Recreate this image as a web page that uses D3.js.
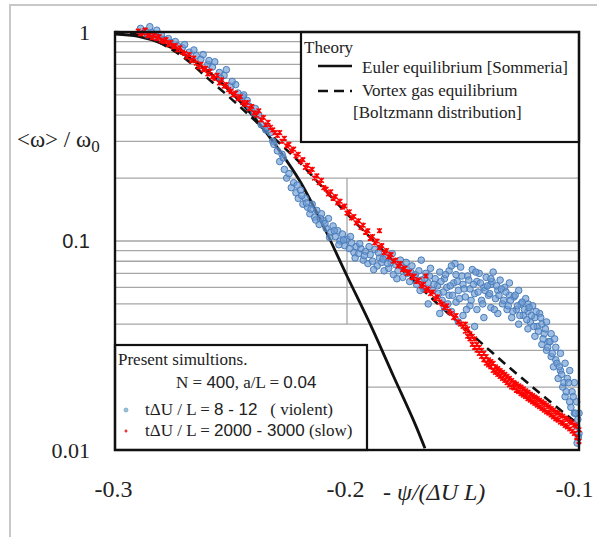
<!DOCTYPE html>
<html><head><meta charset="utf-8">
<script src="https://cdn.jsdelivr.net/npm/d3@7"></script>
<style>body{margin:0;background:#fff}svg{display:block}</style>
</head><body><svg id="c" width="597" height="537"></svg>
<script>
// ---------------- data ----------------
const xTicks = [-0.3, -0.2, -0.1];
const xTickLabels = ["-0.3", "-0.2", "-0.1"];
const yTicks = [1, 0.1, 0.01];
const yTickLabels = ["1", "0.1", "0.01"];
const yGrid = [0.02,0.03,0.04,0.05,0.06,0.07,0.08,0.09,0.1,0.2,0.3,0.4,0.5,0.6,0.7,0.8,0.9];
const xGridPartial = [-0.2];               // short vertical grid segment
const xGridPartialRange = [0.04, 0.2];

// Euler equilibrium [Sommeria] (solid)
const eulerX = [-0.300,-0.290,-0.280,-0.270,-0.260,-0.250,-0.240,-0.230,-0.220,-0.210,-0.200,-0.190,-0.180,-0.170,-0.1664];
const eulerY = [0.978,0.953,0.883,0.778,0.650,0.516,0.390,0.280,0.191,0.117,0.068,0.040,0.0226,0.0128,0.0102];

// Vortex gas equilibrium [Boltzmann] (dashed)
const gasX = [-0.300,-0.290,-0.280,-0.270,-0.260,-0.250,-0.240,-0.230,-0.220,-0.210,-0.200,-0.190,-0.180,-0.170,-0.160,-0.150,-0.140,-0.130,-0.120,-0.110,-0.100];
const gasY = [1.0,0.97,0.88,0.75,0.60,0.48,0.38,0.30,0.235,0.178,0.135,0.104,0.080,0.0625,0.049,0.039,0.031,0.0248,0.0200,0.0162,0.0132];

// tΔU/L = 8-12 (violent)
const violent = [
[-0.289,1.04],[-0.287,1.01],[-0.286,0.97],[-0.285,1.06],[-0.284,0.99],[-0.283,0.95],[-0.282,1.02],[-0.281,0.94],[-0.280,0.97],[-0.279,0.92],[-0.277,0.93],[-0.276,0.89],[-0.274,0.90],[-0.273,0.86],[-0.271,0.84],[-0.270,0.87],[-0.268,0.80],[-0.266,0.82],[-0.265,0.77],[-0.263,0.74],[-0.262,0.78],[-0.260,0.70],[-0.258,0.68],[-0.257,0.72],[-0.255,0.64],[-0.253,0.62],[-0.252,0.66],[-0.250,0.55],[-0.248,0.56],[-0.247,0.51],[-0.245,0.49],[-0.243,0.47],[-0.242,0.44],[-0.240,0.41],[-0.238,0.40],[-0.237,0.36],[-0.235,0.34],[-0.233,0.33],[-0.232,0.30],[-0.230,0.27],[-0.229,0.24],[-0.228,0.26],[-0.227,0.22],[-0.226,0.20],[-0.225,0.21],[-0.224,0.18],[-0.223,0.19],[-0.222,0.17],[-0.221,0.16],[-0.220,0.175],[-0.219,0.15],[-0.218,0.16],[-0.217,0.145],[-0.216,0.135],[-0.215,0.15],[-0.214,0.13],[-0.213,0.14],[-0.212,0.12],[-0.211,0.135],[-0.210,0.125],[-0.209,0.115],[-0.208,0.128],[-0.207,0.11],[-0.206,0.118],[-0.205,0.105],[-0.204,0.112],[-0.203,0.10],[-0.202,0.108],[-0.201,0.095],[-0.200,0.102],[-0.199,0.092],[-0.198,0.098],[-0.197,0.088],[-0.196,0.094],
[-0.2595,0.73],[-0.2545,0.60],[-0.2495,0.58],[-0.2445,0.50],[-0.2395,0.43],[-0.2345,0.35],[-0.2315,0.29],[-0.2275,0.25],
[-0.2215,0.185],[-0.2195,0.165],[-0.2175,0.152],[-0.2155,0.142],[-0.2135,0.126],[-0.2115,0.128],[-0.2095,0.121],[-0.2075,0.104],[-0.2055,0.112],[-0.2035,0.096],[-0.2015,0.101],
[-0.195,0.087],[-0.194,0.092],[-0.193,0.081],[-0.192,0.089],[-0.191,0.078],[-0.190,0.086],[-0.189,0.080],[-0.188,0.091],[-0.187,0.076],[-0.186,0.083],[-0.185,0.079],[-0.184,0.072],[-0.183,0.084],[-0.182,0.074],[-0.181,0.079],[-0.180,0.069],[-0.179,0.077],[-0.178,0.072],[-0.177,0.081],[-0.176,0.067],[-0.175,0.074],[-0.174,0.070],[-0.173,0.064],[-0.172,0.076],[-0.171,0.068],[-0.170,0.062],[-0.169,0.072],[-0.168,0.065],[-0.167,0.059],[-0.166,0.070],[-0.165,0.063],[-0.164,0.074],[-0.163,0.058],[-0.162,0.066],[-0.161,0.061],[-0.160,0.071],
[-0.1985,0.105],[-0.1965,0.083],[-0.1945,0.097],[-0.1925,0.085],[-0.1905,0.094],[-0.1885,0.073],[-0.1865,0.088],[-0.1845,0.082],[-0.1825,0.078],[-0.1805,0.087],[-0.1785,0.066],[-0.1765,0.076],[-0.1745,0.079],[-0.1725,0.071],[-0.1705,0.069],[-0.1685,0.058],[-0.1665,0.066],[-0.1645,0.068],[-0.1625,0.062],[-0.1605,0.056],
[-0.159,0.052],[-0.158,0.066],[-0.158,0.048],[-0.157,0.060],[-0.156,0.072],[-0.156,0.055],[-0.155,0.046],[-0.154,0.063],[-0.153,0.069],[-0.153,0.051],[-0.152,0.058],[-0.151,0.075],[-0.150,0.044],[-0.150,0.062],[-0.149,0.054],[-0.148,0.068],[-0.147,0.049],[-0.147,0.059],[-0.146,0.073],[-0.145,0.056],[-0.144,0.047],[-0.144,0.064],[-0.143,0.070],[-0.142,0.052],[-0.141,0.060],[-0.141,0.043],[-0.140,0.067],[-0.139,0.055],[-0.138,0.062],[-0.138,0.048],[-0.137,0.071],[-0.136,0.053],[-0.135,0.058],[-0.135,0.045],[-0.134,0.065],[-0.133,0.050],[-0.132,0.060],[-0.131,0.047],[-0.130,0.055],[-0.130,0.063],
[-0.1595,0.064],[-0.1585,0.057],[-0.1575,0.069],[-0.1565,0.050],[-0.1555,0.061],[-0.1545,0.055],[-0.1535,0.078],[-0.1525,0.064],[-0.1515,0.053],[-0.1505,0.068],[-0.1495,0.059],[-0.1485,0.047],[-0.1475,0.065],[-0.1465,0.052],[-0.1455,0.062],[-0.1445,0.071],[-0.1435,0.057],[-0.1425,0.063],[-0.1415,0.050],[-0.1405,0.058],[-0.1395,0.061],[-0.1385,0.056],[-0.1375,0.064],[-0.1365,0.047],[-0.1355,0.061],[-0.1345,0.055],[-0.1335,0.059],[-0.1325,0.052],[-0.1315,0.057],[-0.1305,0.049],
[-0.152,0.041],[-0.145,0.039],[-0.160,0.045],[-0.165,0.050],[-0.168,0.081],[-0.155,0.076],[-0.138,0.066],[-0.122,0.050],
[-0.129,0.043],[-0.128,0.054],[-0.127,0.047],[-0.126,0.058],[-0.126,0.040],[-0.125,0.050],[-0.124,0.044],[-0.123,0.053],[-0.122,0.038],[-0.122,0.046],[-0.121,0.041],[-0.120,0.049],[-0.119,0.035],[-0.119,0.043],[-0.118,0.039],[-0.117,0.045],[-0.116,0.032],[-0.116,0.040],[-0.115,0.036],[-0.114,0.030],[-0.114,0.041],[-0.113,0.033],[-0.112,0.028],[-0.112,0.036],[-0.111,0.025],[-0.110,0.031],[-0.110,0.027],[-0.109,0.022],[-0.108,0.029],[-0.108,0.024],[-0.107,0.020],[-0.106,0.026],[-0.106,0.018],[-0.105,0.022],[-0.104,0.017],[-0.104,0.024],[-0.103,0.019],[-0.102,0.015],[-0.102,0.021],[-0.101,0.013],[-0.101,0.017],[-0.100,0.012],[-0.100,0.015],
[-0.1295,0.052],[-0.1285,0.046],[-0.1275,0.055],[-0.1265,0.049],[-0.1255,0.044],[-0.1245,0.051],[-0.1235,0.047],[-0.1225,0.042],[-0.1215,0.048],[-0.1205,0.044],[-0.1195,0.039],[-0.1185,0.046],[-0.1175,0.037],[-0.1165,0.043],[-0.1155,0.034],[-0.1145,0.038],[-0.1135,0.031],[-0.1125,0.033],[-0.1115,0.029],[-0.1105,0.034],[-0.1095,0.026],[-0.1085,0.025],[-0.1075,0.023],[-0.1065,0.021],[-0.1055,0.019],[-0.1045,0.021],[-0.1035,0.016],[-0.1025,0.018],[-0.1015,0.015],[-0.1005,0.014],[-0.1003,0.0115],[-0.1008,0.0108]
];

// tΔU/L = 2000-3000 (slow)
const slow = [
[-0.290,1.01],[-0.289,0.98],[-0.288,0.99],[-0.287,1.02],[-0.286,0.96],[-0.285,0.97],[-0.284,0.94],[-0.283,0.96],[-0.282,0.93],[-0.281,0.95],[-0.280,0.91],[-0.279,0.90],[-0.278,0.92],[-0.277,0.87],[-0.276,0.89],[-0.275,0.85],[-0.274,0.86],[-0.273,0.82],[-0.272,0.84],[-0.271,0.80],[-0.270,0.79],[-0.269,0.76],[-0.268,0.78],[-0.267,0.73],[-0.266,0.75],[-0.265,0.71],[-0.264,0.68],[-0.263,0.70],[-0.262,0.66],[-0.261,0.67],[-0.260,0.63],[-0.259,0.65],[-0.258,0.61],[-0.257,0.60],[-0.256,0.62],[-0.255,0.57],[-0.254,0.59],[-0.253,0.55],[-0.252,0.56],[-0.251,0.53],[-0.250,0.52],
[-0.249,0.50],[-0.248,0.51],[-0.247,0.48],[-0.246,0.49],[-0.245,0.46],[-0.244,0.45],[-0.243,0.46],[-0.242,0.43],[-0.241,0.44],[-0.240,0.41],[-0.239,0.40],[-0.238,0.42],[-0.237,0.38],[-0.236,0.39],[-0.235,0.36],[-0.234,0.37],[-0.233,0.35],[-0.232,0.34],[-0.231,0.33],[-0.230,0.32],[-0.229,0.33],[-0.228,0.30],[-0.227,0.31],[-0.226,0.285],[-0.225,0.29],[-0.224,0.27],[-0.223,0.275],[-0.222,0.255],[-0.221,0.26],[-0.220,0.24],[-0.219,0.245],[-0.218,0.225],[-0.217,0.23],[-0.216,0.215],[-0.215,0.22],[-0.214,0.20],[-0.213,0.205],[-0.212,0.19],[-0.211,0.195],[-0.210,0.18],[-0.209,0.177],[-0.208,0.168],[-0.207,0.172],[-0.206,0.16],[-0.205,0.163],[-0.204,0.152],[-0.203,0.155],[-0.202,0.145],[-0.201,0.147],[-0.200,0.136],
[-0.199,0.138],[-0.198,0.129],[-0.197,0.131],[-0.196,0.122],[-0.195,0.125],[-0.194,0.116],[-0.193,0.119],[-0.192,0.110],[-0.191,0.112],[-0.190,0.103],[-0.189,0.105],[-0.188,0.098],[-0.187,0.100],[-0.186,0.093],[-0.185,0.095],[-0.184,0.088],[-0.183,0.090],[-0.182,0.084],[-0.181,0.086],[-0.180,0.080],[-0.179,0.081],[-0.178,0.076],[-0.177,0.078],[-0.176,0.073],[-0.175,0.074],[-0.174,0.070],[-0.173,0.071],[-0.172,0.067],[-0.171,0.068],[-0.170,0.064],[-0.169,0.065],[-0.168,0.061],[-0.167,0.062],[-0.166,0.058],[-0.165,0.059],[-0.164,0.056],[-0.163,0.057],[-0.162,0.053],[-0.161,0.054],[-0.160,0.051],[-0.159,0.050],[-0.158,0.048],[-0.157,0.049],[-0.156,0.046],[-0.155,0.045],[-0.154,0.043],[-0.153,0.044],[-0.152,0.041],[-0.151,0.040],[-0.150,0.039],
[-0.186,0.112],[-0.166,0.068],
[-0.149,0.037],[-0.149,0.040],[-0.148,0.035],[-0.148,0.038],[-0.147,0.034],[-0.147,0.036],[-0.146,0.032],[-0.146,0.035],[-0.145,0.031],[-0.145,0.034],[-0.144,0.030],[-0.144,0.032],[-0.143,0.029],[-0.143,0.031],[-0.142,0.028],[-0.142,0.030],[-0.141,0.027],[-0.141,0.029],[-0.140,0.026],[-0.140,0.028],[-0.139,0.0255],[-0.139,0.027],[-0.138,0.025],[-0.138,0.0265],[-0.137,0.024],[-0.137,0.026],[-0.136,0.0235],[-0.136,0.025],[-0.135,0.023],[-0.135,0.0245],[-0.134,0.0225],[-0.134,0.024],[-0.133,0.022],[-0.133,0.0235],[-0.132,0.0215],[-0.132,0.023],[-0.131,0.021],[-0.131,0.0225],[-0.130,0.0205],[-0.130,0.022],[-0.129,0.020],[-0.129,0.0215],[-0.128,0.0198],[-0.128,0.021],[-0.127,0.0193],[-0.127,0.0207],[-0.126,0.019],[-0.126,0.0203],[-0.125,0.0186],[-0.125,0.020],[-0.124,0.0183],[-0.124,0.0196],[-0.123,0.018],[-0.123,0.0192],[-0.122,0.0176],[-0.122,0.0189],[-0.121,0.0173],[-0.121,0.0185],[-0.120,0.017],[-0.120,0.0182],[-0.119,0.0167],[-0.119,0.0179],[-0.118,0.0164],[-0.118,0.0176],[-0.117,0.0161],[-0.117,0.0173],[-0.116,0.0158],[-0.116,0.017],[-0.115,0.0155],[-0.115,0.0167],[-0.114,0.0152],[-0.114,0.0164],[-0.113,0.015],[-0.113,0.0161],[-0.112,0.0147],[-0.112,0.0158],[-0.111,0.0144],[-0.111,0.0155],[-0.110,0.0141],[-0.110,0.0152],[-0.109,0.0139],[-0.109,0.015],[-0.108,0.0136],[-0.108,0.0147],[-0.107,0.0134],[-0.107,0.0145],[-0.106,0.0131],[-0.106,0.0142],[-0.105,0.0129],[-0.105,0.014],[-0.104,0.0126],[-0.104,0.0137],[-0.103,0.0123],[-0.103,0.0135],[-0.102,0.012],[-0.102,0.0132],[-0.101,0.0115],[-0.101,0.013],[-0.100,0.011],[-0.100,0.0125]
];

// ---------------- drawing ----------------
const svg = d3.select("#c");
const SERIF = "'Liberation Serif','Times New Roman',serif";
const SANS = "'Liberation Sans',Arial,sans-serif";
const L = 115, R = 579, T = 32, B = 450;
const x = d3.scaleLinear().domain([-0.3, -0.1]).range([L, R]);
const y = d3.scaleLog().domain([0.01, 1]).range([B, T]);

// outer light frame
svg.append("path").attr("d", `M10,537V5H597`).attr("fill","none").attr("stroke","#c8c8c8").attr("stroke-width",2);

// grid
svg.append("g").selectAll("line").data(yGrid).join("line")
  .attr("x1", L).attr("x2", R).attr("y1", d => y(d)).attr("y2", d => y(d))
  .attr("stroke", "#a6a6a6").attr("stroke-width", 1.3);
svg.append("g").selectAll("line").data(xGridPartial).join("line")
  .attr("x1", d => x(d)).attr("x2", d => x(d))
  .attr("y1", y(xGridPartialRange[1])).attr("y2", y(xGridPartialRange[0]))
  .attr("stroke", "#a6a6a6").attr("stroke-width", 1.3);

// legend boxes (white, over grid)
svg.append("rect").attr("x", 301).attr("y", T).attr("width", R - 301).attr("height", 110)
  .attr("fill", "#fff").attr("stroke", "#111").attr("stroke-width", 2.2);
svg.append("rect").attr("x", L).attr("y", 345).attr("width", 367 - L).attr("height", B - 345)
  .attr("fill", "#fff").attr("stroke", "#111").attr("stroke-width", 2.2);

// theory curves
const line = d3.line().x(d => x(d[0])).y(d => y(d[1])).curve(d3.curveMonotoneX);
svg.append("path").datum(gasX.map((v, i) => [v, gasY[i]])).attr("d", line)
  .attr("fill", "none").attr("stroke", "#111").attr("stroke-width", 2.6).attr("stroke-dasharray", "9,6");
svg.append("path").datum(eulerX.map((v, i) => [v, eulerY[i]])).attr("d", line)
  .attr("fill", "none").attr("stroke", "#111").attr("stroke-width", 2.8);

// violent (blue circles)
svg.append("g").selectAll("circle").data(violent).join("circle")
  .attr("cx", d => x(d[0])).attr("cy", d => y(d[1])).attr("r", 3.3)
  .attr("fill", "rgba(110,155,212,0.65)").attr("stroke", "#4a7ebb").attr("stroke-width", 1);

// slow (red crosses)
svg.append("g").selectAll("path").data(slow).join("path")
  .attr("transform", d => `translate(${x(d[0])},${y(d[1])})`)
  .attr("d", "M-2.3,-2.3L2.3,2.3M-2.3,2.3L2.3,-2.3M0,-2.6V2.6")
  .attr("stroke", "#ff0000").attr("stroke-width", 1.5).attr("fill", "none");

// plot frame
svg.append("rect").attr("x", L).attr("y", T).attr("width", R - L).attr("height", B - T)
  .attr("fill", "none").attr("stroke", "#111").attr("stroke-width", 2.4);

// axes (labels only)
const yAxis = svg.append("g").attr("transform", `translate(${L},0)`)
  .call(d3.axisLeft(y).tickValues(yTicks).tickFormat((d, i) => yTickLabels[i]).tickSize(0).tickPadding(25));
yAxis.select(".domain").remove();
yAxis.selectAll("text").attr("font-family", (d, i) => i === 1 ? SANS : SERIF)
  .attr("font-size", (d, i) => i === 1 ? 20 : 22).attr("fill", "#222");

const xAxis = svg.append("g").attr("transform", `translate(0,${B})`)
  .call(d3.axisBottom(x).tickValues(xTicks).tickFormat((d, i) => xTickLabels[i]).tickSize(0).tickPadding(30));
xAxis.select(".domain").remove();
xAxis.selectAll("text").attr("font-family", SERIF).attr("font-size", 24).attr("fill", "#222")
  .attr("dx", (d, i) => i === 2 ? -5 : -2);

// axis titles
const yt = svg.append("text").attr("x", 17).attr("y", 147).attr("font-family", SERIF).attr("font-size", 23).attr("fill", "#222");
yt.append("tspan").text("<ω> / ω");
yt.append("tspan").attr("font-size", 17).attr("dy", 5).text("0");

const xt = svg.append("text").attr("x", 383).attr("y", 500).attr("font-family", SERIF).attr("font-size", 24).attr("fill", "#222");
xt.append("tspan").text("- ");
xt.append("tspan").attr("font-style", "italic").text("ψ/(ΔU L)");

// top legend
const tl = svg.append("g").attr("font-family", SERIF).attr("font-size", 17).attr("fill", "#222");
tl.append("text").attr("x", 304).attr("y", 53).text("Theory");
tl.append("line").attr("x1", 318).attr("x2", 352).attr("y1", 66).attr("y2", 66).attr("stroke", "#111").attr("stroke-width", 2.4);
tl.append("text").attr("x", 362).attr("y", 73).text("Euler equilibrium [Sommeria]");
tl.append("line").attr("x1", 318).attr("x2", 352).attr("y1", 91).attr("y2", 91).attr("stroke", "#111").attr("stroke-width", 2.4).attr("stroke-dasharray", "10,6");
tl.append("text").attr("x", 362).attr("y", 96).text("Vortex gas equilibrium");
tl.append("text").attr("x", 353).attr("y", 118).text("[Boltzmann distribution]");

// bottom legend
const bl = svg.append("g").attr("font-size", 17).attr("fill", "#222");
function mixed(xp, yp, segs) {
  const t = bl.append("text").attr("x", xp).attr("y", yp).attr("xml:space", "preserve");
  segs.forEach(s => t.append("tspan").attr("font-family", s[1] ? SANS : SERIF).text(s[0]));
  return t;
}
mixed(118, 365, [["Present simultions.", 0]]);
mixed(176, 388, [["N = ", 0], ["400", 1], [", a/L = ", 0], ["0.04", 1]]);
mixed(145, 415, [["tΔU / L = ", 0], ["8 - 12", 1], ["   ( violent)", 0]]);
mixed(145, 436, [["tΔU / L = ", 0], ["2000 - 3000", 1], [" (slow)", 0]]);
bl.append("circle").attr("cx", 126).attr("cy", 410).attr("r", 2).attr("fill", "#9cc3d8").attr("stroke", "#7aa7c7").attr("stroke-width", 0.8);
bl.append("path").attr("transform", "translate(126,431)").attr("d", "M-1.5,0H1.5M0,-1.5V1.5").attr("stroke", "#e00").attr("stroke-width", 1.2);
</script>
</body></html>
